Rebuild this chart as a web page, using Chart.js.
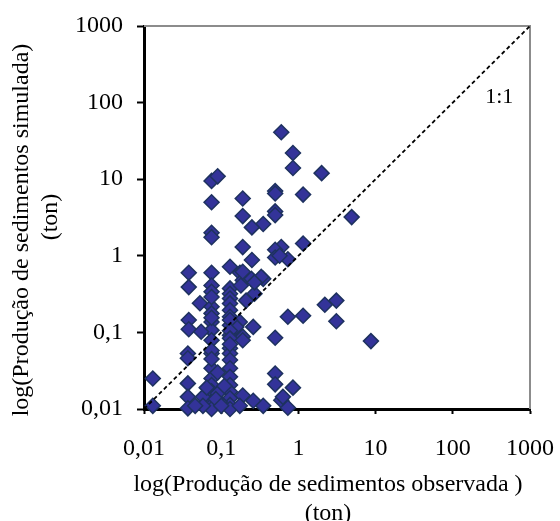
<!DOCTYPE html>
<html>
<head>
<meta charset="utf-8">
<script src="https://cdn.jsdelivr.net/npm/chart.js@4.4.0/dist/chart.umd.min.js"></script>
<style>
  html, body { margin: 0; padding: 0; background: #fff; }
  #wrap { width: 560px; height: 521px; }
</style>
</head>
<body>
<div id="wrap"><canvas id="sedChart" width="560" height="521"></canvas></div>
<script>
// produção de sedimentos observada (ton)
const observada = [
  0.6, 0.85, 0.85, 2.0, 0.5, 0.5, 1.15, 0.5, 0.5, 0.35,
  4.9, 1.15, 0.6, 0.5, 0.5, 0.73, 0.35, 2.2, 3.1, 3.1,
  0.73, 1.15, 0.5, 8.7, 0.5, 0.5, 0.85, 0.6, 0.73, 0.35,
  0.075, 0.09, 0.075, 0.075, 0.075, 0.19, 0.19, 0.25, 0.19, 0.25,
  0.038, 0.075, 0.13, 0.175,
  0.038, 0.075, 0.075, 0.13, 0.13, 0.13, 0.13, 0.13, 0.19, 0.246,
  0.33, 0.27, 0.21, 0.053, 0.075, 0.075, 0.038, 0.038, 0.075, 0.075,
  0.055, 0.13, 0.13, 0.13, 0.174, 0.26, 0.19, 0.27, 0.18, 0.157,
  0.075, 0.13, 0.13,
  0.013, 0.013, 0.037, 0.037, 0.037, 0.037, 0.037, 0.075, 0.075, 0.075,
  0.075, 0.075, 0.075, 0.075, 0.075, 0.075, 0.13, 0.13, 0.13, 0.13,
  0.13, 0.13, 0.13, 0.13, 0.13, 0.13, 0.13, 0.19, 0.19, 0.174,
  0.26, 0.058, 0.058, 0.096, 0.09, 0.046, 0.63, 0.075, 0.075, 0.09,
  0.11, 0.075, 0.13, 0.085, 0.065, 0.1,
  0.57, 0.075, 0.19
];
// produção de sedimentos simulada (ton)
const simulada = [
  41, 22, 14, 12, 7.0, 6.5, 6.3, 3.8, 3.4, 2.6,
  3.2, 1.45, 1.3, 1.2, 0.95, 0.9, 0.5, 0.23, 0.26, 0.14,
  0.16, 0.165, 0.085, 0.077, 0.029, 0.021, 0.019, 0.013, 0.0104, 0.011,
  9.5, 10.9, 5.0, 2.0, 1.75, 5.6, 3.3, 2.35, 1.3, 0.88,
  0.6, 0.6, 0.72, 0.6,
  0.39, 0.41, 0.34, 0.375, 0.32, 0.277, 0.239, 0.195, 0.48, 0.5,
  0.53, 0.32, 0.26, 0.24, 0.216, 0.177, 0.145, 0.11, 0.137, 0.107,
  0.102, 0.16, 0.124, 0.092, 0.137, 0.118, 0.088, 0.45, 0.41, 0.118,
  0.29, 0.145, 0.105,
  0.025, 0.011, 0.053, 0.046, 0.0216, 0.0144, 0.0102, 0.053, 0.034, 0.025,
  0.0206, 0.017, 0.0145, 0.0125, 0.011, 0.01, 0.0836, 0.062, 0.053, 0.0436,
  0.034, 0.0264, 0.0206, 0.0168, 0.0138, 0.0113, 0.01, 0.079, 0.015, 0.011,
  0.0128, 0.0144, 0.011, 0.0123, 0.016, 0.011, 0.0144, 0.079, 0.058, 0.03,
  0.02, 0.045, 0.07, 0.0135, 0.019, 0.011,
  1.0, 0.155, 0.62
];
const tickValues = [0.01, 0.1, 1, 10, 100, 1000];
const linhaUmUm = [0.01, 1000];
const rotuloUmUm = { text: '1:1', x: 400, y: 117 };
const tituloX = ['log(Produção de sedimentos observada )', '(ton)'];
const tituloY = ['log(Produção de sedimentos simulada)', '(ton)'];

const fonte = 'Liberation Serif';

const pontos = observada.map((v, i) => ({ x: v, y: simulada[i] }));

// bordas cinzas (topo e direita), títulos dos eixos e rótulo 1:1
const extras = {
  id: 'extras',
  beforeDatasetsDraw(chart) {
    const { ctx, chartArea } = chart;
    ctx.save();
    ctx.strokeStyle = '#8c8c8c';
    ctx.lineWidth = 2;
    ctx.beginPath();
    ctx.moveTo(chartArea.left, chartArea.top);
    ctx.lineTo(chartArea.right, chartArea.top);
    ctx.lineTo(chartArea.right, chartArea.bottom);
    ctx.stroke();
    ctx.restore();
  },
  afterDraw(chart) {
    const { ctx, chartArea, scales } = chart;
    ctx.save();
    ctx.fillStyle = '#000';
    ctx.font = '24px "' + fonte + '"';
    ctx.textAlign = 'center';
    ctx.textBaseline = 'middle';
    const cx = (chartArea.left + chartArea.right) / 2 - 9;
    ctx.fillText(tituloX[0], cx, 485);
    ctx.fillText(tituloX[1], cx, 514);

    ctx.save();
    ctx.translate(22, 230);
    ctx.rotate(-Math.PI / 2);
    ctx.fillText(tituloY[0], 0, 0);
    ctx.restore();
    ctx.save();
    ctx.translate(51, 217);
    ctx.rotate(-Math.PI / 2);
    ctx.fillText(tituloY[1], 0, 0);
    ctx.restore();

    ctx.font = '22px "' + fonte + '"';
    ctx.fillText(rotuloUmUm.text,
      scales.x.getPixelForValue(rotuloUmUm.x),
      scales.y.getPixelForValue(rotuloUmUm.y));
    ctx.restore();
  }
};

function eixoLog(tickLength, padding) {
  return {
    type: 'logarithmic',
    min: 0.01,
    max: 1000,
    afterBuildTicks: axis => {
      axis.ticks = tickValues.map(v => ({ value: v }));
    },
    ticks: {
      color: '#000',
      padding: padding,
      font: { family: fonte, size: 24 },
      autoSkip: false,
      maxRotation: 0,
      callback: v => String(v).replace('.', ',')
    },
    grid: {
      drawOnChartArea: false,
      drawTicks: true,
      tickLength: tickLength,
      tickWidth: 2,
      tickColor: '#000'
    },
    border: { display: true, color: '#000', width: 3 }
  };
}

// a área do gráfico fica fixa: os rótulos podem ultrapassar as bordas
const eixoX = eixoLog(5, 20);
eixoX.afterFit = scale => {
  scale.height = 112;
  scale.paddingLeft = 0;
  scale.paddingRight = 0;
};
const eixoY = eixoLog(7, 14);
eixoY.afterFit = scale => {
  scale.width = 144;
  scale.paddingTop = 0;
  scale.paddingBottom = 0;
};

new Chart(document.getElementById('sedChart').getContext('2d'), {
  type: 'scatter',
  data: {
    datasets: [
      {
        type: 'line',
        label: '1:1',
        data: linhaUmUm.map(v => ({ x: v, y: v })),
        borderColor: '#000',
        borderWidth: 1.8,
        borderDash: [4, 3],
        pointRadius: 0,
        fill: false
      },
      {
        label: 'Produção de sedimentos',
        data: pontos,
        pointStyle: 'rectRot',
        pointRadius: 7.5,
        pointBackgroundColor: 'rgb(51, 51, 153)',
        pointBorderColor: 'rgb(30, 50, 95)',
        pointBorderWidth: 1.5,
        clip: false
      }
    ]
  },
  options: {
    responsive: false,
    animation: false,
    devicePixelRatio: 1,
    layout: { padding: { top: 26, right: 30, left: 0, bottom: 0 } },
    plugins: {
      legend: { display: false },
      tooltip: { enabled: false }
    },
    scales: { x: eixoX, y: eixoY }
  },
  plugins: [extras]
});
</script>
</body>
</html>
